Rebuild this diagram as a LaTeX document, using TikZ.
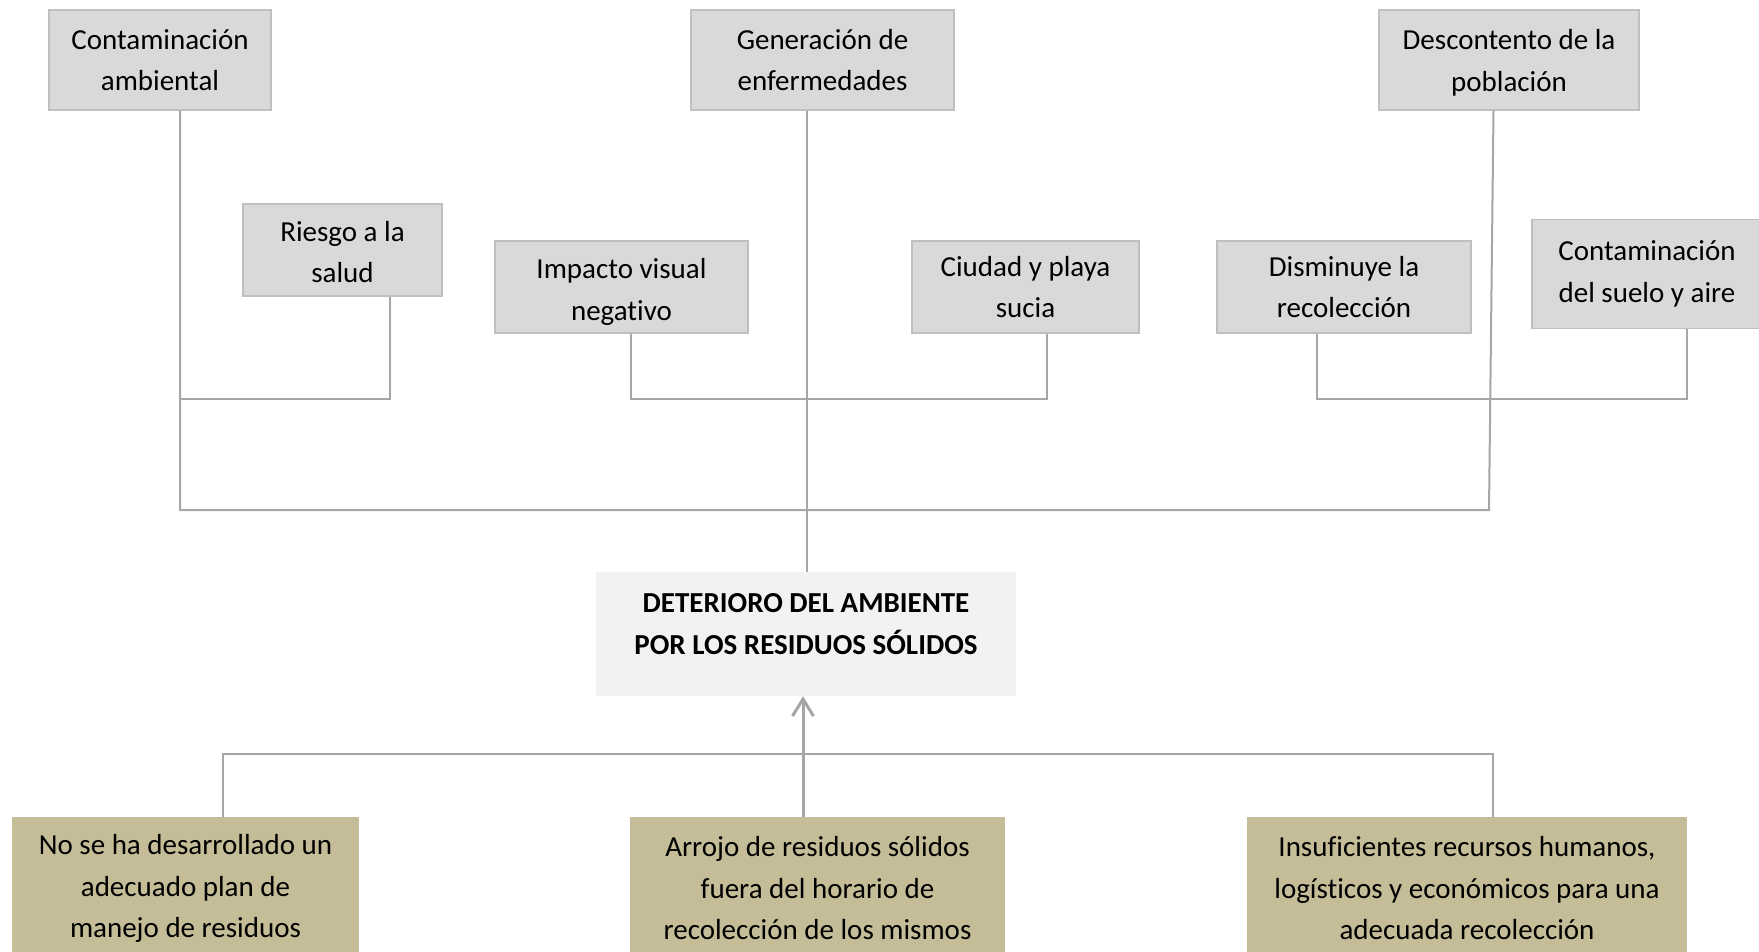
\documentclass[tikz,border=0pt]{standalone}
\usepackage{fontspec}
\setmainfont{Carlito}[Ligatures=NoCommon]
\usetikzlibrary{arrows.meta}
\definecolor{boxgray}{HTML}{D9D9D9}
\definecolor{boxedge}{HTML}{BFBFBF}
\definecolor{linegray}{HTML}{A6A6A6}
\definecolor{tanfill}{HTML}{C4BD97}
\definecolor{centerfill}{HTML}{F2F2F2}
\begin{document}
\begin{tikzpicture}[x=1pt,y=-1pt,
  every node/.style={font=\fontsize{29}{41.5}\selectfont, align=center, inner sep=0pt},
  effect/.style={draw=boxedge, line width=1.5pt, fill=boxgray},
  cause/.style={fill=tanfill},
  problem/.style={fill=centerfill},
  conn/.style={draw=linegray, line width=2pt},
  lowtext/.style 2 args={label={[yshift=#1, font=\fontsize{29}{41.5}\selectfont, align=center]center:#2}}]
\useasboundingbox (0,0) rectangle (1759,952);
\clip (0,0) rectangle (1759,952);
% top effects
\node[effect, minimum width=222pt, minimum height=100pt] (ca) at (160,60) {Contaminación\\ambiental};
\node[effect, minimum width=263pt, minimum height=100pt] (ge) at (822.5,60) {Generación de\\enfermedades};
\node[effect, minimum width=260pt, minimum height=100pt, lowtext={-3pt}{Descontento de la\\población}] (dp) at (1509,60) {};
% second-level effects
\node[effect, minimum width=199pt, minimum height=92pt, lowtext={-2pt}{Riesgo a la\\salud}] (rs) at (342.5,250) {};
\node[effect, minimum width=253pt, minimum height=92pt, lowtext={-5pt}{Impacto visual\\negativo}] (iv) at (621.5,287) {};
\node[effect, minimum width=227pt, minimum height=92pt] (cp) at (1025.5,287) {Ciudad y playa\\sucia};
\node[effect, minimum width=254pt, minimum height=92pt] (dr) at (1344,287) {Disminuye la\\recolección};
\node[effect, minimum width=230pt, minimum height=109pt] (cs) at (1647,274) {Contaminación\\del suelo y aire};
% central problem
\node[problem, minimum width=420pt, minimum height=124pt, label={[yshift=10pt, font=\fontsize{29}{41.5}\selectfont\bfseries, align=center]center:DETERIORO DEL AMBIENTE\\POR LOS RESIDUOS SÓLIDOS}] (det) at (806,634) {};
% causes
\node[cause, minimum width=347pt, minimum height=143pt] (b1) at (185.5,888.5) {No se ha desarrollado un\\adecuado plan de\\manejo de residuos};
\node[cause, minimum width=375pt, minimum height=143pt] (b2) at (817.5,888.5) {Arrojo de residuos sólidos\\fuera del horario de\\recolección de los mismos};
\node[cause, minimum width=440pt, minimum height=143pt] (b3) at (1467,888.5) {Insuficientes recursos humanos,\\logísticos y económicos para una\\adecuada recolección};
% helper coordinates
\coordinate (effY) at (0,399);
\coordinate (barL) at (180,510);
\coordinate (barR) at (1489,510);
\coordinate (cauY) at (0,754);
% connectors (effects)
\draw[conn] ([xshift=20pt]ca.south) -- (barL) -- (barR) -- ([xshift=-15.5pt]dp.south);
\draw[conn] ([xshift=47pt]rs.south) -- ([xshift=47pt]rs.south |- effY) -- ([xshift=20pt]ca.south |- effY);
\draw[conn] ([xshift=-15.5pt]ge.south) -- ([xshift=-15.5pt]ge.south |- det.north);
\draw[conn] ([xshift=9.5pt]iv.south) -- ([xshift=9.5pt]iv.south |- effY) -| ([xshift=21.5pt]cp.south);
\draw[conn] ([xshift=-27pt]dr.south) -- ([xshift=-27pt]dr.south |- effY) -| ([xshift=40pt]cs.south);
% connectors (causes)
\draw[conn] ([xshift=37pt]b1.north) -- ([xshift=37pt]b1.north |- cauY) -- ([xshift=26pt]b3.north |- cauY) -- ([xshift=26pt]b3.north);
\draw[draw=linegray, line width=3pt, -{Straight Barb[length=17pt,width=21pt]}] ([xshift=-14.5pt]b2.north) -- ([xshift=-14.5pt]b2.north |- det.south);
\end{tikzpicture}
\end{document}
